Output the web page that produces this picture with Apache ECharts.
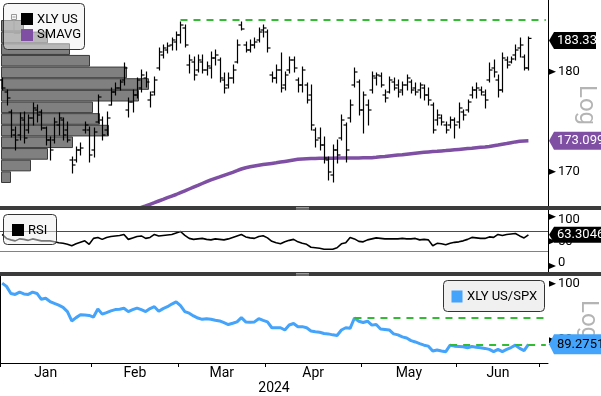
<!DOCTYPE html>
<html><head><meta charset="utf-8">
<script src="https://cdn.jsdelivr.net/npm/echarts@6/dist/echarts.min.js"></script>
<style>html,body{margin:0;padding:0;background:#fff}#c{width:601px;height:396px}</style>
</head><body><div id="c"></div>
<script>
// ---------- DATA ----------
const dates = ['2024-01-02','2024-01-03','2024-01-04','2024-01-05','2024-01-08','2024-01-09','2024-01-10','2024-01-11','2024-01-12','2024-01-16','2024-01-17','2024-01-18','2024-01-19','2024-01-22','2024-01-23','2024-01-24','2024-01-25','2024-01-26','2024-01-29','2024-01-30','2024-01-31',
'2024-02-01','2024-02-02','2024-02-05','2024-02-06','2024-02-07','2024-02-08','2024-02-09','2024-02-12','2024-02-13','2024-02-14','2024-02-15','2024-02-16','2024-02-20','2024-02-21','2024-02-22','2024-02-23','2024-02-26','2024-02-27','2024-02-28','2024-02-29',
'2024-03-01','2024-03-04','2024-03-05','2024-03-06','2024-03-07','2024-03-08','2024-03-11','2024-03-12','2024-03-13','2024-03-14','2024-03-15','2024-03-18','2024-03-19','2024-03-20','2024-03-21','2024-03-22','2024-03-25','2024-03-26','2024-03-27','2024-03-28',
'2024-04-01','2024-04-02','2024-04-03','2024-04-04','2024-04-05','2024-04-08','2024-04-09','2024-04-10','2024-04-11','2024-04-12','2024-04-15','2024-04-16','2024-04-17','2024-04-18','2024-04-19','2024-04-22','2024-04-23','2024-04-24','2024-04-25','2024-04-26','2024-04-29','2024-04-30',
'2024-05-01','2024-05-02','2024-05-03','2024-05-06','2024-05-07','2024-05-08','2024-05-09','2024-05-10','2024-05-13','2024-05-14','2024-05-15','2024-05-16','2024-05-17','2024-05-20','2024-05-21','2024-05-22','2024-05-23','2024-05-24','2024-05-28','2024-05-29','2024-05-30','2024-05-31',
'2024-06-03','2024-06-04','2024-06-05','2024-06-06','2024-06-07','2024-06-10','2024-06-11','2024-06-12','2024-06-13','2024-06-14','2024-06-17','2024-06-18','2024-06-20','2024-06-21','2024-06-24','2024-06-25','2024-06-26','2024-06-27','2024-06-28',
'2024-07-01','2024-07-02'];

const open = [179.17,177.97,175.97,173.67,173.67,175.17,174.17,175.37,176.17,175.97,174.37,173.17,173.17,174.67,175.17,174.17,171.17,171.17,172.17,174.17,174.17,
172.17,174.97,175.17,174.17,176.67,177.97,178.37,179.17,176.17,176.97,177.67,178.37,179.37,177.17,177.97,180.37,181.67,182.17,182.67,182.97,
183.67,184.37,180.67,180.97,180.17,180.97,180.17,180.37,181.37,181.17,179.17,178.67,179.37,180.97,184.67,182.67,182.17,182.67,183.17,184.17,
183.97,179.67,179.37,180.17,178.67,180.17,181.17,179.17,178.67,178.67,177.67,174.17,173.37,172.67,171.17,169.67,172.17,173.37,174.67,175.37,178.67,178.97,
176.17,176.67,178.17,179.37,179.57,177.67,177.97,178.97,178.67,178.17,178.67,178.97,178.37,178.17,178.37,177.67,176.67,175.17,175.37,174.67,
174.67,175.17,174.97,175.97,176.17,177.67,178.17,178.17,177.67,179.17,180.37,179.17,178.17,181.17,180.97,181.67,182.37,181.47,180.37];
const high = [179.37,178.17,176.17,174.47,175.87,175.97,175.67,176.87,176.67,176.17,174.47,173.47,175.37,175.87,175.37,174.97,171.47,172.47,172.87,174.97,174.47,
174.37,177.67,175.47,175.97,178.37,178.87,179.17,180.87,177.37,178.17,179.37,180.17,179.97,177.97,179.47,182.37,182.67,182.87,183.37,183.97,
184.97,184.67,181.67,181.47,181.67,181.67,180.97,181.97,182.17,181.37,179.87,179.87,180.67,183.17,184.97,182.97,183.17,183.37,184.37,184.67,
184.17,179.97,180.67,181.87,179.97,181.47,181.47,179.37,180.47,178.87,178.67,174.37,174.37,173.47,171.47,172.67,173.17,175.67,174.87,177.17,180.37,179.17,
177.97,177.17,179.97,179.87,179.87,178.17,179.47,179.37,179.17,178.97,179.67,179.17,178.87,178.87,178.67,178.37,176.87,176.17,175.67,174.97,
175.47,175.37,176.87,176.17,177.17,178.47,178.87,178.47,178.17,180.87,181.17,179.67,181.87,181.47,181.47,182.67,183.37,181.67,183.47];
const low = [178.17,176.67,173.47,172.17,173.17,172.87,173.87,174.67,174.97,174.17,172.67,171.17,172.87,173.67,173.17,172.97,169.87,170.97,171.67,173.87,170.97,
171.47,174.87,173.17,173.67,176.67,177.67,178.17,178.67,175.47,175.97,177.37,177.97,178.47,176.47,177.67,180.17,181.37,181.87,182.17,182.17,
182.87,182.47,179.87,179.17,179.97,179.87,179.67,179.37,180.67,178.97,177.87,178.37,178.87,180.87,184.17,181.97,181.97,182.37,182.97,183.47,
181.97,178.97,178.87,177.97,178.17,179.87,179.97,177.97,177.97,176.87,174.17,172.47,172.17,170.87,169.17,168.97,170.87,173.17,170.97,174.97,178.47,175.67,
173.87,174.67,177.87,178.67,178.47,176.97,177.87,178.17,177.47,177.67,178.17,177.87,177.67,177.37,177.17,176.67,173.87,174.67,174.67,173.87,
174.37,173.37,174.37,175.17,175.97,177.37,177.37,177.67,176.37,178.97,179.47,177.47,177.97,180.37,180.87,181.17,181.47,180.17,180.17];
const close = [178.37,177.37,174.17,173.17,175.37,173.37,175.37,176.37,175.67,174.37,173.17,172.17,174.97,175.37,173.67,173.17,170.67,172.17,172.37,174.67,171.67,
173.97,177.47,173.67,175.37,177.97,178.37,178.97,180.37,176.97,177.67,179.17,179.67,178.97,177.67,179.17,181.97,182.37,182.57,183.17,183.67,
184.67,182.67,181.17,179.67,181.17,180.17,180.57,181.37,181.67,179.37,178.37,179.37,180.17,182.67,184.27,182.17,182.67,182.97,183.97,184.37,
182.37,179.37,180.17,178.37,179.67,181.17,180.37,178.67,180.17,177.17,174.67,173.17,172.67,171.37,169.97,172.17,171.67,175.17,172.17,176.67,179.97,176.17,
177.67,176.17,179.57,179.67,178.67,177.37,179.17,178.37,177.97,178.67,179.37,178.17,177.97,178.67,177.67,177.17,174.17,175.67,174.97,174.17,
175.17,174.67,176.37,175.67,176.97,178.17,178.37,177.97,177.17,180.17,179.97,178.17,181.37,180.67,181.27,182.17,182.67,180.37,183.33];

const smavg = [null,null,null,null,null,null,null,null,null,null,null,null,null,null,null,null,null,null,null,null,null,
null,null,null,null,null,null,null,null,null,null,
166.27,166.42,166.57,166.74,166.90,167.07,167.23,167.40,167.56,167.72,
167.90,168.08,168.27,168.45,168.63,168.82,169.00,169.18,169.33,169.48,169.64,169.79,169.94,170.10,170.27,170.40,170.49,170.57,170.65,170.71,
170.77,170.83,170.89,170.96,171.03,171.10,171.17,171.24,171.28,171.30,171.32,171.33,171.34,171.34,171.35,171.35,171.36,171.36,171.37,171.37,171.38,171.38,
171.39,171.39,171.40,171.44,171.49,171.53,171.58,171.62,171.66,171.70,171.75,171.80,171.85,171.90,171.95,171.98,172.01,172.04,172.08,172.11,
172.15,172.19,172.23,172.27,172.31,172.35,172.40,172.44,172.48,172.53,172.60,172.67,172.75,172.82,172.90,172.98,173.05,173.08,173.099];

const rsi = [64,56,53,51,55,54,52,55,53,51,51,51,49,47,46,44,41,45,48,51,44,
56,58,54,58,60,61,62,64,54,57,60,61,56,58,64,61,62,63,64,67,
70,62,56,54,55,56,54,53,55,54,53,55,58,61,64,59,57,56,60,61.5,
57,50,47,45,49,52,54,49,46,44,38,37,36,34,34,34,37,45,47,58,55,50,
49,53,55,57,56,55,55,55,55,56,55,55,56,53,54,53,41,46,45,43,
46,48,49,51,54,58,57,56,56,59,58,64,62,64,65,66,61,57,63.3046];

const ratio = [100.11,99.54,98.28,98.11,98.51,98.20,98.11,98.51,98.28,97.25,97.42,96.85,96.51,96.20,95.82,95.07,93.41,94.00,94.50,94.45,94.39,
94.10,95.53,94.62,94.90,95.20,95.42,95.50,95.65,95.07,95.40,95.70,95.40,95.07,95.60,95.93,95.13,95.60,95.93,96.40,96.79,
96.11,95.07,94.79,94.30,93.93,93.70,93.81,93.70,93.53,93.41,93.10,92.78,93.00,93.24,93.99,93.24,93.20,93.24,93.81,93.50,
93.24,92.21,92.21,92.21,91.81,92.70,92.96,92.38,92.40,92.21,91.64,91.50,91.41,91.20,91.12,90.95,90.84,91.81,92.21,92.10,93.93,93.36,
93.13,93.36,92.67,92.78,91.98,91.90,91.81,91.12,90.95,90.60,90.38,89.92,89.69,89.40,89.12,88.95,88.09,88.26,88.10,87.97,
89.12,88.95,88.90,88.83,88.66,88.89,88.75,88.66,88.55,88.37,87.97,88.37,87.97,88.37,88.70,89.12,88.55,88.15,89.2751];

// volume-at-price profile (price bin centres, top to bottom) and relative volume
const profilePrices = ['184.6','183.4','182.3','181.1','179.9','178.8','177.6','176.4','175.3','174.1','172.9','171.8','170.6','169.4'];
const profileVolume = [23,47,69,89,126,148,138,92,99,108,72,47,30,10];

const priceTicks = [170,180];
const rsiTicks = [0,50,100];
const ratioTicks = [90,100];
const rsiLevels = [70,30];
const priceHighLevel = 185.17;
const ratioHighLevel = 93.9;
const ratioLastLevel = 89.2751;
const monthNames = ['Jan','Feb','Mar','Apr','May','Jun'];
const yearLabel = '2024';

// ---------- CHART ----------
const FONT = 'Roboto';
const PURPLE = '#7e4fa3', BLUE = '#44a3fa', GREEN = '#33bb33';
const chart = echarts.init(document.getElementById('c'), null, {renderer:'canvas'});

const monthStarts = [0];
for (let i = 1; i < dates.length; i++) if (dates[i].slice(5,7) !== dates[i-1].slice(5,7)) monthStarts.push(i);
const monthMids = monthNames.map((m,k) => (monthStarts[k] + monthStarts[k+1]) / 2);

const ohlc = open.map((o,i) => [i, o, high[i], low[i], close[i]]);

function renderOHLC(params, api) {
  const i = api.value(0);
  const h = api.coord([i, api.value(2)]);
  const l = api.coord([i, api.value(3)]);
  const o = api.coord([i, api.value(1)]);
  const c = api.coord([i, api.value(4)]);
  const cx = Math.round(h[0]) + 0.5;
  const st = {stroke:'#000', lineWidth:1.2};
  return {type:'group', children:[
    {type:'line', shape:{x1:cx, y1:h[1]-0.5, x2:cx, y2:l[1]+0.5}, style:st},
    {type:'line', shape:{x1:cx-3, y1:o[1], x2:cx, y2:o[1]}, style:st},
    {type:'line', shape:{x1:cx, y1:c[1], x2:cx+3, y2:c[1]}, style:st}
  ]};
}

const hiddenCat = g => ({type:'category', gridIndex:g, data:dates, boundaryGap:true, show:false});
const yBase = {position:'right', axisLine:{show:true, lineStyle:{color:'#000', width:1}}, axisTick:{show:false}, splitLine:{show:false},
  axisLabel:{margin:10, color:'#000', fontFamily:FONT, fontSize:13}};

const option = {
  animation:false,
  backgroundColor:'#fff',
  grid:[
    {left:0, top:0, width:548, height:206},
    {left:0, top:210, width:548, height:62},
    {left:0, top:276, width:548, height:89.7},
    {left:1, top:20, width:547, height:163}
  ],
  xAxis:[
    hiddenCat(0), hiddenCat(1), hiddenCat(2),
    {type:'value', gridIndex:2, min:0, max:dates.length, position:'bottom',
      axisLine:{show:true, onZero:false, lineStyle:{color:'#000', width:1}},
      axisTick:{show:true, customValues:monthStarts, length:4, inside:false, lineStyle:{color:'#000'}},
      axisLabel:{customValues:monthMids, margin:3, color:'#000', fontFamily:FONT, fontSize:14,
        formatter: v => { const k = monthMids.indexOf(v); return k >= 0 ? monthNames[k] : ''; }},
      splitLine:{show:false},
      name:yearLabel, nameLocation:'middle', nameGap:18, nameTextStyle:{color:'#000', fontFamily:FONT, fontSize:14}},
    {type:'value', gridIndex:3, min:0, max:547, show:false}
  ],
  yAxis:[
    Object.assign({}, yBase, {type:'value', gridIndex:0, min:166.57, max:187.17,
      axisLabel:Object.assign({}, yBase.axisLabel, {customValues:priceTicks})}),
    Object.assign({}, yBase, {type:'value', gridIndex:1, min:-12.17, max:113.59,
      axisLabel:Object.assign({}, yBase.axisLabel, {customValues:rsiTicks,
        formatter: v => v === 100 ? '{lo|100}' : (v === 0 ? '{hi|0}' : '{n|' + v + '}'),
        rich:{lo:{padding:[6,0,0,0], fontFamily:FONT, fontSize:13, color:'#000'}, hi:{padding:[0,0,6,0], fontFamily:FONT, fontSize:13, color:'#000'}, n:{fontFamily:FONT, fontSize:13, color:'#000'}}})}),
    Object.assign({}, yBase, {type:'value', gridIndex:2, min:85.962, max:101.375,
      axisLabel:Object.assign({}, yBase.axisLabel, {customValues:ratioTicks})}),
    {type:'category', gridIndex:3, data:profilePrices, inverse:true, show:false}
  ],
  series:[
    {name:'Volume profile', type:'bar', xAxisIndex:4, yAxisIndex:3, data:profileVolume, barCategoryGap:'0%', z:1, silent:true,
      itemStyle:{color:'#808080', borderColor:'#3a3a3a', borderWidth:1}},
    {name:'SMAVG', type:'line', xAxisIndex:0, yAxisIndex:0, data:smavg, showSymbol:false, z:2, silent:true,
      lineStyle:{color:PURPLE, width:3.5}, connectNulls:false,
      markLine:{silent:true, symbol:'none', label:{show:false},
        lineStyle:{color:GREEN, type:[7,6], width:2},
        data:[[{coord:[dates[41], priceHighLevel]}, {coord:[dates[dates.length-1], priceHighLevel]}]]}},
    {name:'XLY US', type:'custom', xAxisIndex:0, yAxisIndex:0, data:ohlc, renderItem:renderOHLC, z:3, silent:true,
      encode:{x:0, y:[1,2,3,4]}, clip:true},
    {name:'RSI', type:'line', xAxisIndex:1, yAxisIndex:1, data:rsi, showSymbol:false, z:2, silent:true,
      lineStyle:{color:'#000', width:1.6},
      markLine:{silent:true, symbol:'none', label:{show:false},
        data:[{yAxis:rsiLevels[0], lineStyle:{color:'#ff0000', type:'solid', width:1}},
              {yAxis:rsiLevels[1], lineStyle:{color:'#00dd00', type:'solid', width:1}}]}},
    {name:'XLY US/SPX', type:'line', xAxisIndex:2, yAxisIndex:2, data:ratio, showSymbol:false, z:2, silent:true,
      lineStyle:{color:BLUE, width:3},
      markLine:{silent:true, symbol:'none', label:{show:false},
        lineStyle:{color:GREEN, type:[7,6], width:2},
        data:[[{coord:[dates[81], ratioHighLevel]}, {coord:[dates[dates.length-1], ratioHighLevel]}],
              [{coord:[dates[103], ratioLastLevel]}, {coord:[dates[dates.length-1], ratioLastLevel]}]]}}
  ]
};
chart.setOption(option);

// ---------- overlay decorations ----------
const yPx = (axis, v) => chart.convertToPixel({yAxisIndex:axis}, v);
const g = [];
const Z = 100;
function arrow(y) {
  g.push({type:'polygon', z:Z, silent:true, shape:{points:[[549,y-3],[549,y+3],[556,y]]}, style:{fill:'#000'}});
}
priceTicks.forEach(v => arrow(yPx(0, v)));
rsiTicks.forEach(v => arrow(yPx(1, v)));
ratioTicks.forEach(v => arrow(yPx(2, v)));

function valueBox(y, h, fill, x2, text, color) {
  g.push({type:'polygon', z:Z+1, silent:true, shape:{points:[[549,y],[554,y-h/2],[x2,y-h/2],[x2,y+h/2],[554,y+h/2]]}, style:{fill:fill}});
  g.push({type:'text', z:Z+2, silent:true, x:557, y:y, style:{text:text, fill:color, font:'13px ' + FONT, verticalAlign:'middle', align:'left'}});
}
const lastI = close.length - 1;
valueBox(yPx(0, close[lastI]) + 2, 17, '#000', 596, String(close[lastI]), '#fff');
valueBox(yPx(0, smavg[lastI]), 18, PURPLE, 610, String(smavg[lastI]), '#fff');
valueBox(yPx(1, rsi[lastI]), 16, '#000', 610, String(rsi[lastI]), '#fff');
valueBox(yPx(2, ratio[lastI]), 20, BLUE, 610, String(ratio[lastI]), '#000');

// "Log" markers
g.push({type:'text', z:Z, silent:true, x:586, y:105, rotation:-Math.PI/2, style:{text:'Log', fill:'#b4b4b4', font:'24px ' + FONT, align:'center', verticalAlign:'middle'}});
g.push({type:'text', z:Z, silent:true, x:588, y:320, rotation:-Math.PI/2, style:{text:'Log', fill:'#b4b4b4', font:'24px ' + FONT, align:'center', verticalAlign:'middle'}});

// panel separators
[[206,4],[272,4]].forEach(([y,h]) => {
  g.push({type:'rect', z:Z+5, silent:true, shape:{x:0, y:y, width:601, height:h}, style:{fill:'#3b3b3b'}});
  g.push({type:'line', z:Z+6, silent:true, shape:{x1:296, y1:y+1.5, x2:309, y2:y+1.5}, style:{stroke:'#9a9a9a', lineWidth:1}});
  g.push({type:'line', z:Z+6, silent:true, shape:{x1:296, y1:y+3, x2:309, y2:y+3}, style:{stroke:'#9a9a9a', lineWidth:1}});
});

// legends
const legFill = 'rgba(240,240,240,0.5)';
g.push({type:'rect', z:Z+3, silent:true, shape:{x:3.5, y:3.5, width:81, height:46, r:4}, style:{fill:legFill, stroke:'#333', lineWidth:1}});
g.push({type:'rect', z:Z+4, silent:true, shape:{x:11.5, y:14.5, width:5, height:5}, style:{fill:'none', stroke:'#999', lineWidth:1}});
g.push({type:'line', z:Z+4, silent:true, shape:{x1:12.5, y1:17, x2:15.5, y2:17}, style:{stroke:'#999', lineWidth:1}});
g.push({type:'polyline', z:Z+4, silent:true, shape:{points:[[14,20],[14,33.5],[20,33.5]]}, style:{stroke:'#aaa', lineWidth:1, fill:'none'}});
g.push({type:'rect', z:Z+4, silent:true, shape:{x:21, y:13, width:12, height:12}, style:{fill:'#000'}});
g.push({type:'text', z:Z+4, silent:true, x:37, y:20, style:{text:'XLY US', fill:'#000', font:'13px ' + FONT, verticalAlign:'middle'}});
g.push({type:'rect', z:Z+4, silent:true, shape:{x:21, y:29, width:12, height:12}, style:{fill:PURPLE}});
g.push({type:'text', z:Z+4, silent:true, x:37, y:35, style:{text:'SMAVG', fill:'#000', font:'13px ' + FONT, verticalAlign:'middle'}});

g.push({type:'rect', z:Z+3, silent:true, shape:{x:3.5, y:214.5, width:53, height:30, r:4}, style:{fill:legFill, stroke:'#333', lineWidth:1}});
g.push({type:'rect', z:Z+4, silent:true, shape:{x:12, y:224, width:12, height:12}, style:{fill:'#000'}});
g.push({type:'text', z:Z+4, silent:true, x:28, y:230.5, style:{text:'RSI', fill:'#000', font:'13px ' + FONT, verticalAlign:'middle'}});

g.push({type:'rect', z:Z+3, silent:true, shape:{x:443.5, y:280.5, width:101, height:31, r:4}, style:{fill:'#f0f0f0', stroke:'#333', lineWidth:1}});
g.push({type:'rect', z:Z+4, silent:true, shape:{x:451.5, y:290.5, width:11, height:12}, style:{fill:BLUE}});
g.push({type:'text', z:Z+4, silent:true, x:467, y:297, style:{text:'XLY US/SPX', fill:'#000', font:'13px ' + FONT, verticalAlign:'middle'}});

chart.setOption({graphic:{elements:g}});
</script>
</body></html>
